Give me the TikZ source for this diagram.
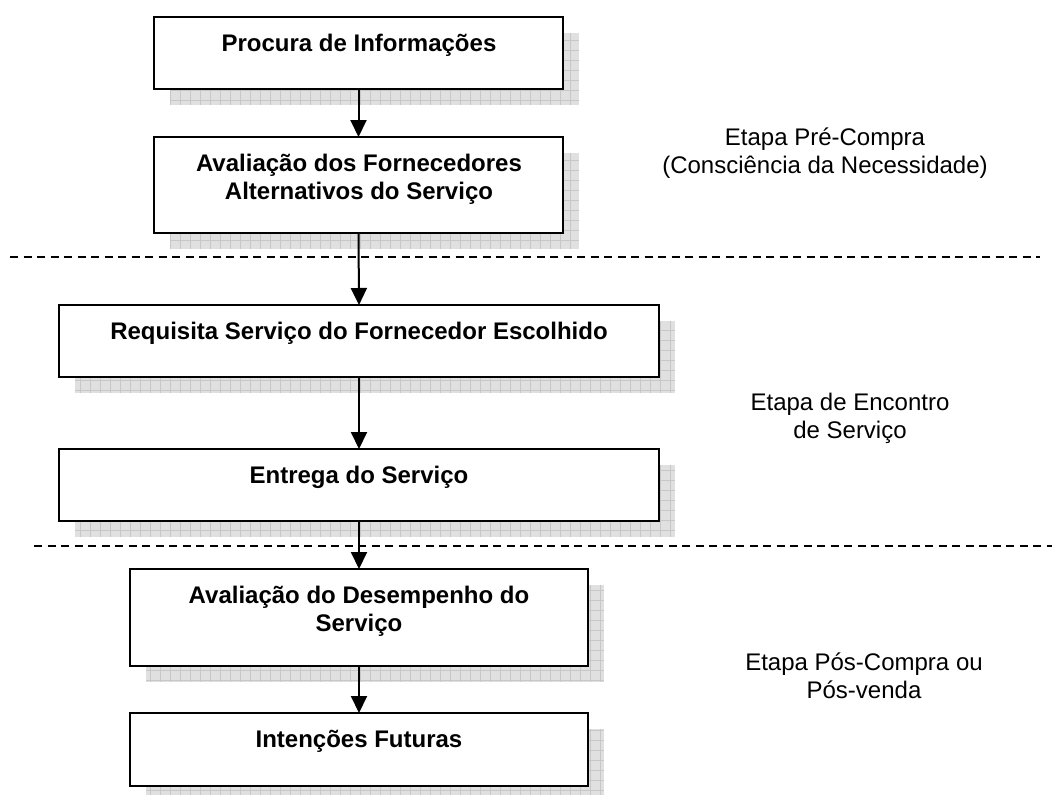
\documentclass[tikz,border=0pt]{standalone}
\usepackage{fontspec}
\setmainfont{Liberation Sans}
\usetikzlibrary{arrows.meta}
\tikzset{
  boxshape/.style={draw=black, line width=2pt, fill=white, inner sep=0pt, outer sep=0pt, anchor=north west},
  shadowfill/.style={fill=black!12, draw=none},
  gridln/.style={draw=black!22, line width=0.8pt},
  boxtext/.style={anchor=base, align=center, font=\fontsize{24}{28.5}\selectfont\bfseries, inner sep=0pt},
  stagetext/.style={anchor=base, align=center, font=\fontsize{24}{28.5}\selectfont, inner sep=0pt},
  sepline/.style={dash pattern=on 8pt off 5.5pt, line width=1.6pt},
  flow/.style={-{Triangle[length=17pt,width=16pt]}, line width=2pt},
}
\newcommand\stagebox[5]{%
  \fill[shadowfill] ({#2+16},{#3+16}) rectangle ({#2+16+#4},{#3+16+#5});
  \begin{scope}
    \clip ({#2+16},{#3+16}) rectangle ({#2+16+#4},{#3+16+#5});
    \draw[gridln, step=10pt] ({#2+16},{#3+16}) grid ({#2+16+#4},{#3+16+#5});
  \end{scope}
  \node[boxshape, minimum width=#4pt, minimum height=#5pt] (#1) at (#2,#3) {};
}
\begin{document}
\begin{tikzpicture}[x=1pt, y=-1pt]
  \fill[white] (0,0) rectangle (1052,795);
  \clip (0,0) rectangle (1052,795);

  % separators
  \coordinate (d1a) at (10,257);
  \coordinate (d1b) at (1040,257);
  \coordinate (d2a) at (34,546);
  \coordinate (d2b) at (1052,546);
  \draw[sepline] (d1a) -- (d1b);
  \draw[sepline] (d2a) -- (d2b);

  % boxes
  \stagebox{b1}{154}{17}{409}{72}
  \stagebox{b2}{154}{137}{409}{96}
  \stagebox{b3}{59}{305}{600}{72}
  \stagebox{b4}{59}{449}{600}{72}
  \stagebox{b5}{130}{569}{458}{97}
  \stagebox{b6}{130}{713}{458}{73}

  % box texts (base anchor = baseline of last line)
  \node[boxtext] (t1) at (359,51) {Procura de Informações};
  \node[boxtext] (t2) at (359,199.5) {Avaliação dos Fornecedores\\Alternativos do Serviço};
  \node[boxtext] (t3) at (359,339) {Requisita Serviço do Fornecedor Escolhido};
  \node[boxtext] (t4) at (359,483) {Entrega do Serviço};
  \node[boxtext] (t5) at (359,631.5) {Avaliação do Desempenho do\\Serviço};
  \node[boxtext] (t6) at (359,747) {Intenções Futuras};

  % stage labels
  \node[stagetext] (s1) at (825,173.5) {Etapa Pré-Compra\\(Consciência da Necessidade)};
  \node[stagetext] (s2) at (850,438.5) {Etapa de Encontro\\de Serviço};
  \node[stagetext] (s3) at (864,698.5) {Etapa Pós-Compra ou\\Pós-venda};

  % arrows
  \draw[flow] (b1.south) -- (b2.north);
  \draw[flow] (b2.south) -- (b3.north);
  \draw[flow] (b3.south) -- (b4.north);
  \draw[flow] (b4.south) -- (b5.north);
  \draw[flow] (b5.south) -- (b6.north);
\end{tikzpicture}
\end{document}
